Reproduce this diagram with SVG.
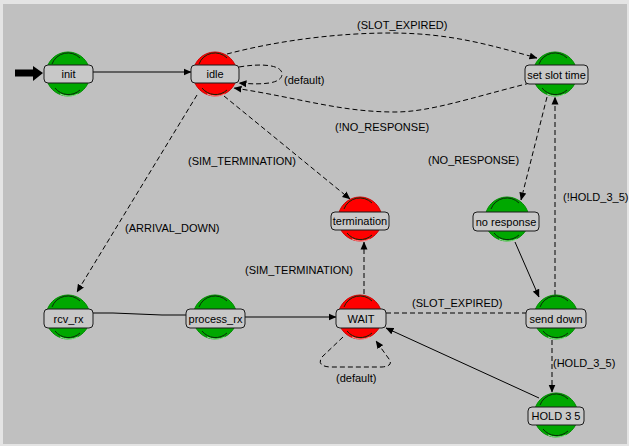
<svg xmlns="http://www.w3.org/2000/svg" width="629" height="446" viewBox="0 0 629 446">
<style>
.lbl{font-family:"Liberation Sans",Arial,sans-serif;font-size:11px;fill:#000}
.nl{font-family:"Liberation Sans",Arial,sans-serif;font-size:11px;fill:#000;text-anchor:middle}
.box{fill:#c8c8c8;stroke:#1a1a1a;stroke-width:1}
.g{fill:#00a800;stroke:#008a00;stroke-width:1}
.r{fill:#ff0000;stroke:#d00000;stroke-width:1}
.arc{fill:none;stroke:#0a2a0a;stroke-width:1}
.hl{fill:none;stroke:#8fe08f;stroke-width:1}
.hlr{fill:none;stroke:#ff9090;stroke-width:1}
.e{fill:none;stroke:#000;stroke-width:1}
.d{fill:none;stroke:#000;stroke-width:1;stroke-dasharray:5,3}
</style>
<defs>
<marker id="ah" viewBox="0 0 8 8" refX="7.5" refY="4" markerWidth="8" markerHeight="8" orient="auto" markerUnits="userSpaceOnUse">
<path d="M0,0.5 L8,4 L0,7.5 Z" fill="#000"/>
</marker>
</defs>
<rect x="0" y="0" width="629" height="446" fill="#e4e4e4"/>
<rect x="3" y="4" width="624" height="440" fill="#c0c0c0"/>

<g id="connectors">
<path d="M15,73 L34,73" stroke="#000" stroke-width="7" fill="none"/>
<path d="M33,66 L43,73 L33,81 Z" fill="#000"/>
<path class="e" d="M93,72 L191,72" marker-end="url(#ah)"/>
<path class="d" d="M239,67 C262,63 282,65 282,74 C282,84 262,85 239,83" marker-end="url(#ah)"/>
<path class="d" d="M227,54 C280,40 340,33 390,33 C450,33 490,45 537,58" marker-end="url(#ah)"/>
<path class="d" d="M530,83 C470,98 430,112 395,112 C340,112 300,98 234,88" marker-end="url(#ah)"/>
<path class="d" d="M224,96 L350,199" marker-end="url(#ah)"/>
<path class="d" d="M197,95 L77,292" marker-end="url(#ah)"/>
<path class="d" d="M547,97 L521,200" marker-end="url(#ah)"/>
<path class="e" d="M515,242 L539,297" marker-end="url(#ah)"/>
<path class="d" d="M555,295 L555,97" marker-end="url(#ah)"/>
<path class="e" d="M93,313 L113,313 L162,315 L186,315"/>
<path class="e" d="M245,317 L336,317" marker-end="url(#ah)"/>
<path class="d" d="M364,294 L364,242" marker-end="url(#ah)"/>
<path class="d" d="M386,313 L526,313"/>
<path class="d" d="M343,337 L322,357 Q316,366 330,367 L382,367 Q394,366 389,359 L376,341" marker-end="url(#ah)"/>
<path class="d" d="M552,340 L552,392" marker-end="url(#ah)"/>
<path class="e" d="M539,398 L386,328" marker-end="url(#ah)"/>
</g>

<g id="labels">
<text class="lbl" x="357" y="29">(SLOT_EXPIRED)</text>
<text class="lbl" x="284" y="84">(default)</text>
<text class="lbl" x="335" y="131">(!NO_RESPONSE)</text>
<text class="lbl" x="188" y="165">(SIM_TERMINATION)</text>
<text class="lbl" x="428" y="164">(NO_RESPONSE)</text>
<text class="lbl" x="563" y="201">(!HOLD_3_5)</text>
<text class="lbl" x="125" y="232">(ARRIVAL_DOWN)</text>
<text class="lbl" x="245" y="274">(SIM_TERMINATION)</text>
<text class="lbl" x="412" y="307">(SLOT_EXPIRED)</text>
<text class="lbl" x="553" y="367">(HOLD_3_5)</text>
<text class="lbl" x="336" y="382">(default)</text>
</g>

<g id="node-init">
<circle class="g" cx="68" cy="74" r="22"/>
<path class="arc" d="M52,64 A17,17 0 0 1 80,58"/>
<path class="arc" d="M55,88 A17,17 0 0 0 80,90"/>
<path class="hl" d="M60,94 A21,21 0 0 0 78,94"/>
<rect class="box" x="44" y="65" width="49" height="18" rx="4"/>
<text class="nl" x="68.5" y="78">init</text>
</g>

<g id="node-idle">
<circle class="r" cx="215" cy="74" r="22"/>
<path class="arc" d="M199,64 A17,17 0 0 1 227,58"/>
<path class="arc" d="M202,88 A17,17 0 0 0 227,90"/>
<path class="hlr" d="M207,94 A21,21 0 0 0 225,94"/>
<rect class="box" x="191" y="65" width="48" height="18" rx="4"/>
<text class="nl" x="215" y="78">idle</text>
</g>

<g id="node-set-slot-time">
<circle class="g" cx="555" cy="74" r="22"/>
<path class="arc" d="M539,64 A17,17 0 0 1 567,58"/>
<path class="arc" d="M542,88 A17,17 0 0 0 567,90"/>
<path class="hl" d="M547,94 A21,21 0 0 0 565,94"/>
<rect class="box" x="525" y="65" width="63" height="19" rx="4"/>
<text class="nl" x="556.5" y="78.5">set slot time</text>
</g>

<g id="node-termination">
<circle class="r" cx="360" cy="219" r="22"/>
<path class="arc" d="M344,209 A17,17 0 0 1 372,203"/>
<path class="arc" d="M347,233 A17,17 0 0 0 372,235"/>
<path class="hlr" d="M352,239 A21,21 0 0 0 370,239"/>
<rect class="box" x="331" y="212" width="58" height="18" rx="4"/>
<text class="nl" x="360" y="225">termination</text>
</g>

<g id="node-no-response">
<circle class="g" cx="507" cy="219" r="22"/>
<path class="arc" d="M491,209 A17,17 0 0 1 519,203"/>
<path class="arc" d="M494,233 A17,17 0 0 0 519,235"/>
<path class="hl" d="M499,239 A21,21 0 0 0 517,239"/>
<rect class="box" x="473" y="212" width="66" height="19" rx="4"/>
<text class="nl" x="506" y="225.5">no response</text>
</g>

<g id="node-rcv-rx">
<circle class="g" cx="68" cy="317" r="22"/>
<path class="arc" d="M52,307 A17,17 0 0 1 80,301"/>
<path class="arc" d="M55,331 A17,17 0 0 0 80,333"/>
<path class="hl" d="M60,337 A21,21 0 0 0 78,337"/>
<rect class="box" x="44" y="309" width="49" height="19" rx="4"/>
<text class="nl" x="68.5" y="322.5">rcv_rx</text>
</g>

<g id="node-process-rx">
<circle class="g" cx="215" cy="317" r="22"/>
<path class="arc" d="M199,307 A17,17 0 0 1 227,301"/>
<path class="arc" d="M202,331 A17,17 0 0 0 227,333"/>
<path class="hl" d="M207,337 A21,21 0 0 0 225,337"/>
<rect class="box" x="186" y="309" width="59" height="19" rx="4"/>
<text class="nl" x="215.5" y="322.5">process_rx</text>
</g>

<g id="node-wait">
<circle class="r" cx="360" cy="317" r="22"/>
<path class="arc" d="M344,307 A17,17 0 0 1 372,301"/>
<path class="arc" d="M347,331 A17,17 0 0 0 372,333"/>
<path class="hlr" d="M352,337 A21,21 0 0 0 370,337"/>
<rect class="box" x="336" y="309" width="50" height="19" rx="4"/>
<text class="nl" x="361" y="322.5">WAIT</text>
</g>

<g id="node-send-down">
<circle class="g" cx="556" cy="317" r="22"/>
<path class="arc" d="M540,307 A17,17 0 0 1 568,301"/>
<path class="arc" d="M543,331 A17,17 0 0 0 568,333"/>
<path class="hl" d="M548,337 A21,21 0 0 0 566,337"/>
<rect class="box" x="526" y="309" width="60" height="19" rx="4"/>
<text class="nl" x="556" y="322.5">send down</text>
</g>

<g id="node-hold-3-5">
<circle class="g" cx="556" cy="415" r="22"/>
<path class="arc" d="M540,405 A17,17 0 0 1 568,399"/>
<path class="arc" d="M543,429 A17,17 0 0 0 568,431"/>
<path class="hl" d="M548,435 A21,21 0 0 0 566,435"/>
<rect class="box" x="528" y="407" width="56" height="18" rx="4"/>
<text class="nl" x="556" y="420">HOLD 3 5</text>
</g>
</svg>
